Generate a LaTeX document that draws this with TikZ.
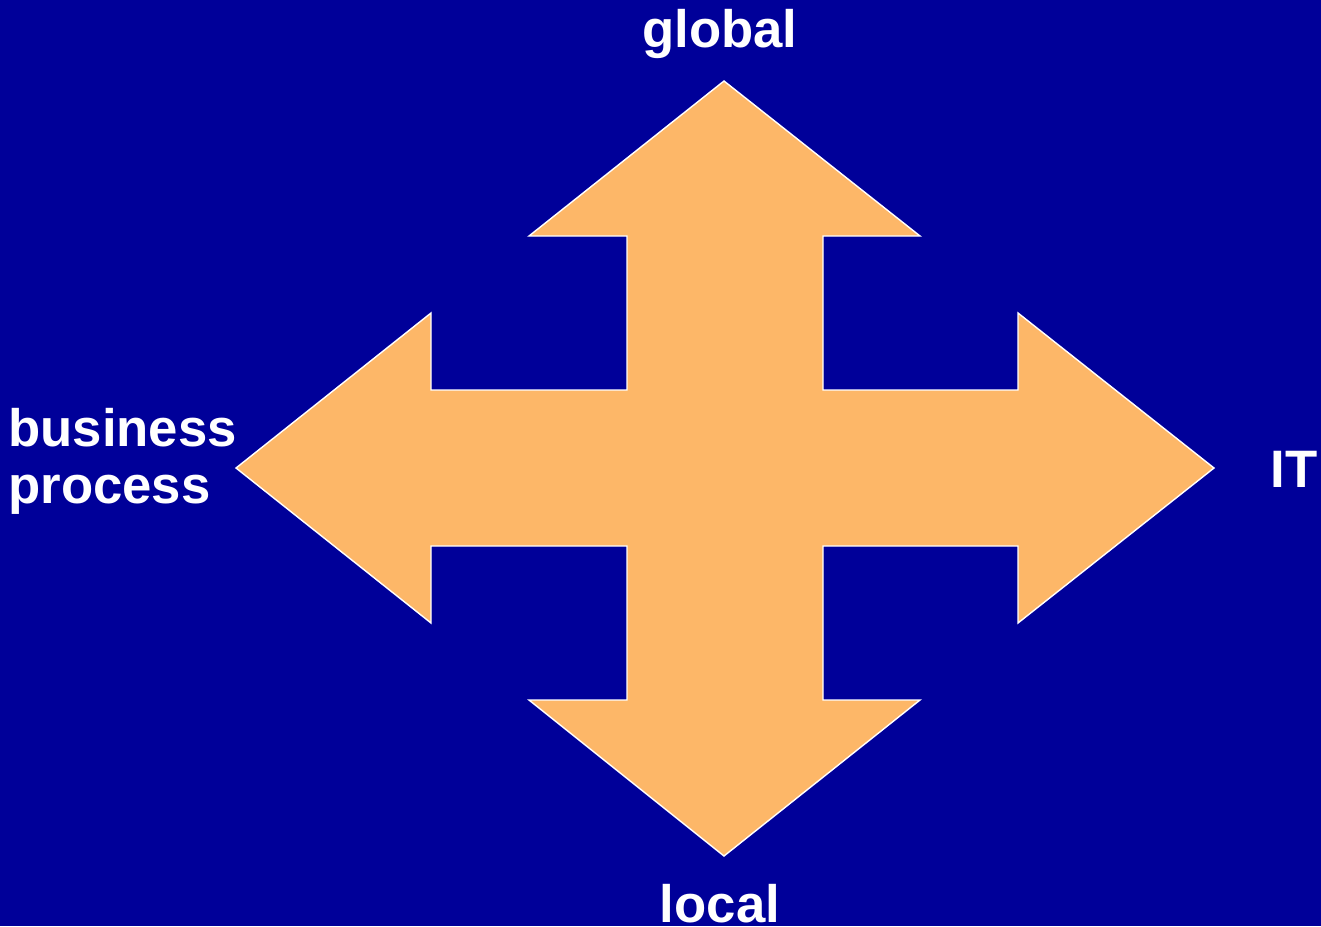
\documentclass[tikz,border=0pt]{standalone}
\usepackage{fontspec}
\setmainfont{Liberation Sans}
\definecolor{bgblue}{HTML}{000099}
\definecolor{crossfill}{HTML}{FDB768}
\tikzset{
  lbl/.style={text=white, font=\bfseries\fontsize{30}{32.4}\selectfont, inner sep=0pt},
}
\begin{document}
\begin{tikzpicture}[x=0.02cm, y=-0.02cm]
  % Hintergrund
  \fill[bgblue] (0,0) rectangle (1321,926);
  \useasboundingbox (0,0) rectangle (1321,926);
  % Kreuz aus vier Pfeilen
  \filldraw[fill=crossfill, draw=white, line width=0.8pt, line join=miter]
    (724,81) -- (920,236) -- (823,236) -- (823,390) -- (1018,390) -- (1018,313)
    -- (1214,468) -- (1018,623) -- (1018,546) -- (823,546) -- (823,700) -- (920,700)
    -- (724,856) -- (529,700) -- (627,700) -- (627,546) -- (431,546) -- (431,623)
    -- (236,468) -- (431,313) -- (431,390) -- (627,390) -- (627,236) -- (529,236) -- cycle;
  % Beschriftungen
  \node[lbl, anchor=base] (global) at (720,48) {global};
  \node[lbl, anchor=base] (local) at (720,922) {local};
  \node[lbl, anchor=base east] (it) at (1318,487) {IT};
  \node[lbl, anchor=north west, align=left] (business) at (8,408) {business\\process};
\end{tikzpicture}
\end{document}
